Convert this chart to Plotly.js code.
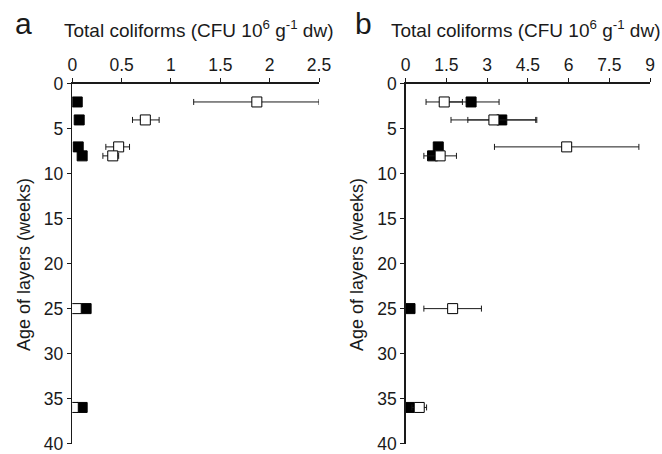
<!DOCTYPE html>
<html>
<head>
<meta charset="utf-8">
<script src="https://cdn.plot.ly/plotly-3.0.1.min.js"></script>
<style>html,body{margin:0;padding:0;background:#fff}</style>
</head>
<body>
<div id="chart" style="width:662px;height:454px"></div>
<script>
// Age of layers (weeks)
const ageA = [2, 4, 7, 8, 25, 36];
const ageB = [2, 4, 7, 8, 25, 36];
// Panel a: total coliforms (CFU 10^6 g^-1 dw)
const aFilled = [0.05, 0.07, 0.06, 0.10, 0.14, 0.10];
const aFilledErr = [0, 0, 0, 0, 0.02, 0];
const aOpen = [1.87, 0.74, 0.47, 0.41, 0.04, 0.01];
const aOpenErrPlus = [0.63, 0.14, 0.11, 0.06, 0, 0];
const aOpenErrMinus = [0.64, 0.13, 0.13, 0.10, 0, 0];
// Panel b
const bFilled = [2.41, 3.54, 1.20, 0.99, 0.16, 0.13];
const bFilledErr = [1.03, 1.25, 0, 0, 0, 0];
const bOpen = [1.42, 3.25, 5.93, 1.27, 1.73, 0.50];
const bOpenErr = [0.67, 1.58, 2.66, 0.60, 1.06, 0.27];
const xTicksA = [0, 0.5, 1, 1.5, 2, 2.5];
const xTicksB = [0, 1.5, 3, 4.5, 6, 7.5, 9];
const yTicks = [0, 5, 10, 15, 20, 25, 30, 35, 40];
const titleText = 'Total coliforms (CFU 10<sup>6</sup> g<sup>-1</sup> dw)';
const yTitleText = 'Age of layers (weeks)';

const fontFam = 'Liberation Sans, Arial, Helvetica, sans-serif';
const ink = '#1a1a1a';

function errObj(plus, minus) {
  const o = {type: 'data', array: plus, visible: true, color: ink, thickness: 1, width: 3};
  if (minus) { o.symmetric = false; o.arrayminus = minus; } else { o.symmetric = true; }
  return o;
}

const traces = [
  {x: aFilled, y: ageA, xaxis: 'x', yaxis: 'y', mode: 'markers', type: 'scatter',
   marker: {symbol: 'square', size: 10, color: '#000', line: {color: '#000', width: 1}},
   error_x: errObj(aFilledErr)},
  {x: aOpen, y: ageA, xaxis: 'x', yaxis: 'y', mode: 'markers', type: 'scatter',
   marker: {symbol: 'square', size: 10, color: '#fff', line: {color: '#000', width: 1}},
   error_x: errObj(aOpenErrPlus, aOpenErrMinus)},
  {x: bFilled, y: ageB, xaxis: 'x2', yaxis: 'y2', mode: 'markers', type: 'scatter',
   marker: {symbol: 'square', size: 10, color: '#000', line: {color: '#000', width: 1}},
   error_x: errObj(bFilledErr)},
  {x: bOpen, y: ageB, xaxis: 'x2', yaxis: 'y2', mode: 'markers', type: 'scatter',
   marker: {symbol: 'square', size: 10, color: '#fff', line: {color: '#000', width: 1}},
   error_x: errObj(bOpenErr)}
];

const xCommon = {
  side: 'top', showgrid: false, zeroline: false, showline: true, linecolor: ink, linewidth: 1.5,
  ticks: 'outside', ticklen: 4, tickwidth: 1, tickcolor: ink, ticklabeloverflow: 'allow',
  tickfont: {family: fontFam, size: 17.5, color: ink}, tickmode: 'array', fixedrange: true
};
const yCommon = {
  autorange: false, range: [40.02, 0], showgrid: false, zeroline: false, showline: true,
  linecolor: ink, linewidth: 1.5, ticks: 'outside', ticklen: 4, tickwidth: 1, tickcolor: ink,
  tickfont: {family: fontFam, size: 17.5, color: ink}, tickmode: 'array', ticklabeloverflow: 'allow',
  tickvals: yTicks, ticktext: yTicks.map(String),
  domain: [0.023, 0.815], fixedrange: true
};

const layout = {
  width: 662, height: 454,
  margin: {l: 0, r: 0, t: 0, b: 0},
  paper_bgcolor: '#fff', plot_bgcolor: '#fff',
  showlegend: false,
  xaxis: Object.assign({}, xCommon, {domain: [0.1092, 0.4819], range: [0, 2.5],
    tickvals: xTicksA, ticktext: xTicksA.map(String), anchor: 'y'}),
  yaxis: Object.assign({}, yCommon, {anchor: 'x'}),
  xaxis2: Object.assign({}, xCommon, {domain: [0.6128, 0.9819], range: [0, 9],
    tickvals: xTicksB, ticktext: xTicksB.map(String), anchor: 'y2'}),
  yaxis2: Object.assign({}, yCommon, {anchor: 'x2'}),
  annotations: [
    {text: 'a', x: 23, y: 24, font: {family: fontFam, size: 30, color: ink}},
    {text: 'b', x: 363, y: 24, font: {family: fontFam, size: 30, color: ink}},
    {text: titleText, x: 199, y: 29, font: {family: fontFam, size: 19, color: ink}},
    {text: titleText, x: 526, y: 29, font: {family: fontFam, size: 19, color: ink}},
    {text: yTitleText, x: 24, y: 265, textangle: -90, font: {family: fontFam, size: 18, color: ink}},
    {text: yTitleText, x: 357, y: 265, textangle: -90, font: {family: fontFam, size: 18, color: ink}}
  ]
};
// convert pixel annotation positions to paper fractions
layout.annotations.forEach(a => {
  a.showarrow = false;
  a.xref = 'paper'; a.yref = 'paper';
  a.x = a.x / 662; a.y = 1 - a.y / 454;
  a.xanchor = 'center'; a.yanchor = 'middle';
});

Plotly.newPlot('chart', traces, layout, {displayModeBar: false, staticPlot: true});
</script>
</body>
</html>
